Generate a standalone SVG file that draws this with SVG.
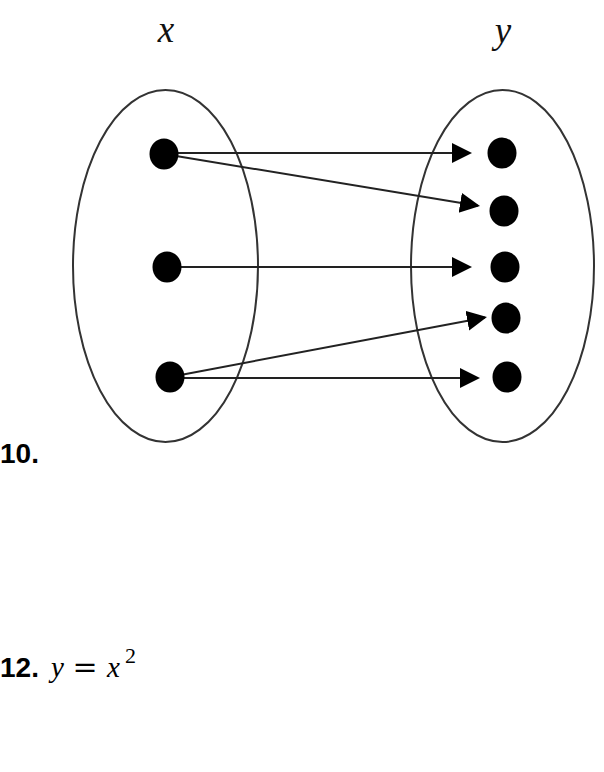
<svg xmlns="http://www.w3.org/2000/svg" width="604" height="772" viewBox="0 0 604 772">
<style>
.set{fill:none;stroke:#333;stroke-width:2}
.dot{fill:#000}
.conn{stroke:#222;stroke-width:2;fill:none}
.lab{font-family:"Liberation Serif",serif;font-style:italic;font-size:37px;fill:#111}
.num{font-family:"Liberation Sans",Arial,sans-serif;font-weight:bold;font-size:28px;fill:#000}
.math{font-family:"Liberation Serif",serif;font-style:italic;font-size:29px;fill:#000}
</style>
<defs>
<marker id="ah" markerUnits="userSpaceOnUse" markerWidth="22" markerHeight="22" refX="18" refY="10" orient="auto">
<path d="M0,0 L20,10 L0,20 Z" fill="#000"/>
</marker>
</defs>
<rect width="604" height="772" fill="#fff"/>
<g id="setX">
<ellipse class="set" cx="165.5" cy="266" rx="92.5" ry="176"/>
<text class="lab" x="166" y="42" text-anchor="middle">x</text>
</g>
<g id="setY">
<ellipse class="set" cx="502.5" cy="266" rx="91.5" ry="176"/>
<text class="lab" x="503" y="43" text-anchor="middle">y</text>
</g>
<g id="connectors">
<line class="conn" x1="164" y1="153" x2="470" y2="153" marker-end="url(#ah)"/>
<line class="conn" x1="164" y1="154" x2="478" y2="205.7" marker-end="url(#ah)"/>
<line class="conn" x1="167" y1="267" x2="470" y2="267" marker-end="url(#ah)"/>
<line class="conn" x1="170" y1="377" x2="485" y2="317.4" marker-end="url(#ah)"/>
<line class="conn" x1="170" y1="378" x2="478" y2="378" marker-end="url(#ah)"/>
</g>
<g id="x1"><ellipse class="dot" cx="164" cy="154" rx="14.5" ry="15.5"/></g>
<g id="x2"><ellipse class="dot" cx="167" cy="267" rx="14.5" ry="15.5"/></g>
<g id="x3"><ellipse class="dot" cx="170" cy="377" rx="14.5" ry="15.5"/></g>
<g id="y1"><ellipse class="dot" cx="502" cy="153" rx="14.5" ry="15.5"/></g>
<g id="y2"><ellipse class="dot" cx="504" cy="211" rx="14.5" ry="15.5"/></g>
<g id="y3"><ellipse class="dot" cx="505" cy="267" rx="14.5" ry="15.5"/></g>
<g id="y4"><ellipse class="dot" cx="506" cy="318" rx="14.5" ry="15.5"/></g>
<g id="y5"><ellipse class="dot" cx="507" cy="377" rx="14.5" ry="15.5"/></g>
<g id="labels">
<text class="num" x="0" y="463">10.</text>
<text class="num" x="0" y="677">12.</text>
<text class="math" x="51" y="677">y</text>
<text x="85" y="677" text-anchor="middle" font-family="DejaVu Serif, serif" font-size="30" fill="#000">=</text>
<text class="math" x="107" y="677">x</text>
<text x="125" y="663" font-family="Liberation Serif, serif" font-size="22" fill="#000">2</text>
</g>
</svg>
